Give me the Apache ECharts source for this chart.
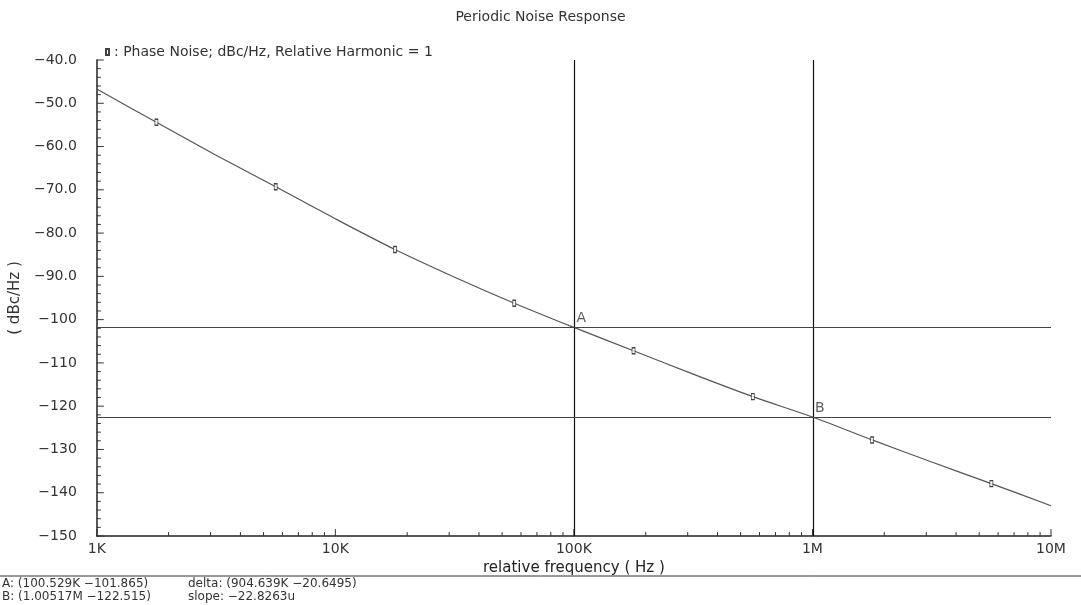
<!DOCTYPE html>
<html>
<head>
<meta charset="utf-8">
<script src="https://cdn.jsdelivr.net/npm/echarts@6/dist/echarts.min.js"></script>
<style>
  html, body { margin: 0; padding: 0; background: #fff; }
  #main { width: 1081px; height: 605px; }
</style>
</head>
<body>
<div id="main"></div>
<script>
// phase noise curve (Hz, dBc/Hz)
var curveFreq = [1000, 1778, 3162, 5623, 10000, 17783, 31623, 56234, 100000,
                 177828, 316228, 562341, 1000000, 1778279, 3162278, 5623413, 10000000];
var curveDb = [-46.7, -54.4, -62.0, -69.3, -76.7, -83.8, -90.2, -96.2, -101.8,
               -107.2, -112.6, -117.8, -122.5, -127.8, -132.9, -137.9, -143.0];

// the small square markers on the trace
var markerFreq = [1778, 5623, 17783, 56234, 177828, 562341, 1778279, 5623413];
var markerDb = [-54.4, -69.3, -83.8, -96.2, -107.2, -117.8, -127.8, -137.9];

// cursors A and B
var cursorNames = ['A', 'B'];
var cursorFreq = [100529, 1005170];
var cursorDb = [-101.865, -122.515];
var readoutLeft = ['A: (100.529K \u2212101.865)', 'B: (1.00517M \u2212122.515)'];
var readoutRight = ['delta: (904.639K \u221220.6495)', 'slope: \u221222.8263u'];

// axis ticks
var xTickValues = [1000, 10000, 100000, 1000000, 10000000];
var xTickLabels = ['1K', '10K', '100K', '1M', '10M'];
var xMinorSteps = [2, 3, 4, 5, 6, 7, 8, 9];
var yMin = -150, yMax = -40, yStep = 10, yMinorStep = 2;

var FONT = '"DejaVu Sans", sans-serif';

var curveData = curveFreq.map(function (f, i) { return [f, curveDb[i]]; });
var markerData = markerFreq.map(function (f, i) { return [f, markerDb[i]]; });
var cursorData = cursorFreq.map(function (f, i) { return [f, cursorDb[i], cursorNames[i]]; });

// tick marks drawn inward: [value, isMajor]
var xTickData = [];
xTickValues.forEach(function (d, k) {
  xTickData.push([d, 1]);
  if (k < xTickValues.length - 1) {
    xMinorSteps.forEach(function (s) { xTickData.push([d * s, 0]); });
  }
});
var yTickData = [];
for (var v = yMin; v <= yMax; v += yMinorStep) {
  yTickData.push([v, (v - yMin) % yStep === 0 ? 1 : 0]);
}

function yLabel(v) {
  var s = v > -100 ? v.toFixed(1) : String(v);
  return s.replace('-', '\u2212');
}
function xLabel(v) {
  var i = xTickValues.indexOf(Math.round(v));
  return i >= 0 ? xTickLabels[i] : '';
}

var chart = echarts.init(document.getElementById('main'));
chart.setOption({
  animation: false,
  backgroundColor: '#fff',
  textStyle: { fontFamily: FONT },
  title: {
    text: 'Periodic Noise Response',
    left: 'center',
    top: 5,
    textStyle: { fontSize: 14, fontWeight: 'normal', color: '#333', fontFamily: FONT }
  },
  legend: {
    data: ['Phase Noise; dBc/Hz, Relative Harmonic = 1'],
    left: 100,
    top: 40,
    icon: 'rect',
    itemWidth: 3,
    itemHeight: 6,
    formatter: function (name) { return ': ' + name; },
    textStyle: { fontSize: 14, color: '#333', fontFamily: FONT }
  },
  grid: { left: 94, right: 30, top: 60, bottom: 69 },
  xAxis: {
    type: 'log',
    logBase: 10,
    min: 1000,
    max: 10000000,
    name: 'relative frequency ( Hz )',
    nameLocation: 'middle',
    nameGap: 20,
    nameTextStyle: { fontSize: 15, color: '#222' },
    axisLine: { lineStyle: { color: '#222', width: 1.5 } },
    axisTick: { show: false },
    axisLabel: { formatter: xLabel, fontSize: 14, color: '#333', margin: 6 },
    splitLine: { show: false }
  },
  yAxis: {
    type: 'value',
    min: yMin,
    max: yMax,
    interval: yStep,
    name: '( dBc/Hz )',
    nameLocation: 'middle',
    nameGap: 64,
    nameRotate: 90,
    nameTextStyle: { fontSize: 15, color: '#333' },
    axisLine: { show: true, lineStyle: { color: '#222', width: 1.5 } },
    axisTick: { show: false },
    axisLabel: { formatter: yLabel, fontSize: 14, color: '#333', margin: 20, padding: [0, 0, 12, 0] },
    splitLine: { show: false }
  },
  series: [
    {
      name: 'trace',
      type: 'line',
      data: curveData,
      smooth: 0.3,
      symbol: 'none',
      lineStyle: { color: '#555', width: 1.2 },
      z: 3,
      markLine: {
        silent: true,
        symbol: ['none', 'none'],
        label: { show: false },
        animation: false,
        data: [
          { xAxis: cursorFreq[0], lineStyle: { color: '#111', width: 1.2, type: 'solid' } },
          { xAxis: cursorFreq[1], lineStyle: { color: '#111', width: 1.2, type: 'solid' } },
          { yAxis: cursorDb[0], lineStyle: { color: '#444', width: 1.2, type: 'solid' } },
          { yAxis: cursorDb[1], lineStyle: { color: '#444', width: 1.2, type: 'solid' } }
        ]
      }
    },
    {
      name: 'Phase Noise; dBc/Hz, Relative Harmonic = 1',
      type: 'scatter',
      data: markerData,
      symbol: 'rect',
      symbolSize: [3, 6],
      itemStyle: { color: '#fff', borderColor: '#111', borderWidth: 1 },
      z: 4
    },
    {
      name: 'cursors',
      type: 'scatter',
      data: cursorData,
      symbolSize: 0,
      label: {
        show: true,
        formatter: function (p) { return p.value[2]; },
        position: [2, -16],
        fontSize: 14,
        color: '#333'
      },
      z: 5
    },
    {
      name: 'xticks',
      type: 'custom',
      silent: true,
      data: xTickData,
      renderItem: function (params, api) {
        var p = api.coord([api.value(0), yMin]);
        var len = api.value(1) ? 7 : 4;
        return {
          type: 'line',
          shape: { x1: p[0], y1: p[1], x2: p[0], y2: p[1] - len },
          style: { stroke: '#333', lineWidth: 1 }
        };
      },
      z: 2
    },
    {
      name: 'yticks',
      type: 'custom',
      silent: true,
      data: yTickData,
      encode: { x: 2, y: 0 },
      renderItem: function (params, api) {
        var p = api.coord([xTickValues[0], api.value(0)]);
        var len = api.value(1) ? 7 : 4;
        return {
          type: 'line',
          shape: { x1: p[0], y1: p[1], x2: p[0] + len, y2: p[1] },
          style: { stroke: '#333', lineWidth: 1 }
        };
      },
      z: 2
    }
  ],
  graphic: [
    { type: 'line', shape: { x1: 0, y1: 576, x2: 1081, y2: 576 }, style: { stroke: '#333', lineWidth: 1 } },
    { type: 'text', left: 2, top: 577, style: { text: readoutLeft.join('\n'), font: '12px ' + FONT, fill: '#333', lineHeight: 13 } },
    { type: 'text', left: 188, top: 577, style: { text: readoutRight.join('\n'), font: '12px ' + FONT, fill: '#333', lineHeight: 13 } }
  ]
});
</script>
</body>
</html>
